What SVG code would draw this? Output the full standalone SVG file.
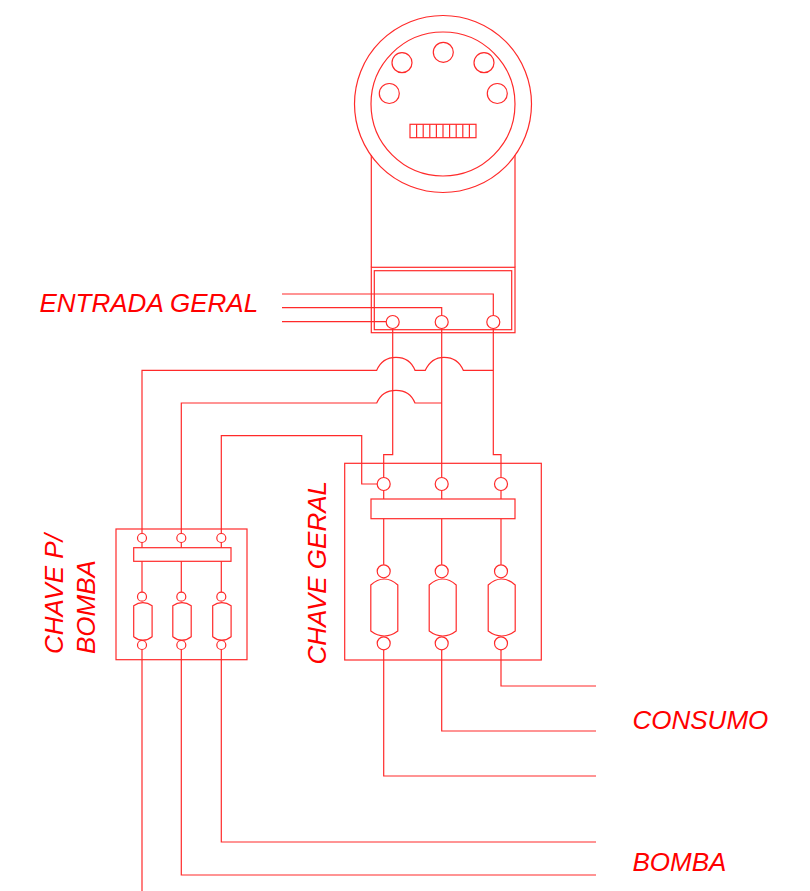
<svg xmlns="http://www.w3.org/2000/svg" width="810" height="891" viewBox="0 0 810 891">
<style>
.s{fill:none;stroke:#ff2a2a;stroke-width:1.2}
.t{font-family:"Liberation Sans",Arial,sans-serif;font-style:italic;font-size:26px;fill:#ff0000}
</style>
<defs>
<path id="f1" d="M-13.5 -23.5Q-7 -29.5 0 -29.5Q7 -29.5 13.5 -23.5V22.5Q7 27.5 0 27.5Q-7 27.5 -13.5 22.5Z"/>
<path id="f2" d="M-9.2 -15.5Q-5 -18.5 0 -18.5Q5 -18.5 9.2 -15.5V15.5Q5 19 0 19Q-5 19 -9.2 15.5Z"/>
</defs>
<rect width="810" height="891" fill="#fff"/>
<g id="connectors" class="s">
<path d="M282 294H493.3V315.5M282 307.7H441.7V315.5M282 321.7H386"/>
<path d="M392.7 328.5V454.7H383.7V477.5M441.7 328.5V477.5M493.3 328.5V454.7H501V477.5"/>
<path d="M142 533.5V370.3H376.7C381 360 388 357.3 396 357.3C404 357.3 411 360 415 370.3H425.3C430 360 437 357.3 444 357.3C452 357.3 459 360 463.3 370.3H493.3"/>
<path d="M181.3 533.5V403H376.7C381 393 388 390.3 396 390.3C404 390.3 411 393 415 403H441.7"/>
<path d="M221.3 533.5V435.7H361.7V484H377"/>
<path d="M383.7 649.8V776H596M441.7 649.8V731H596M501 649.8V686H596"/>
<path d="M142 649.5V891M181.3 649.5V875H596M221.3 649.5V842H596"/>
<path d="M383.7 490.5V499M441.7 490.5V499M501 490.5V499M383.7 518.7V564.8M441.7 518.7V564.8M501 518.7V564.8"/>
<path d="M142 542.5V547.7M181.3 542.5V547.7M221.3 542.5V547.7M142 561.3V592.2M181.3 561.3V592.2M221.3 561.3V592.2"/>
</g>
<g id="meter" class="s">
<circle cx="443" cy="104" r="88.5"/>
<circle cx="443" cy="104" r="72"/>
<circle cx="402" cy="62.7" r="10"/>
<circle cx="443.3" cy="52.3" r="10"/>
<circle cx="484" cy="62.7" r="10"/>
<circle cx="389.3" cy="93.5" r="10"/>
<circle cx="497.3" cy="93.5" r="10"/>
<rect x="410" y="124.3" width="66" height="13.4"/>
<path d="M416.6 124.3V137.7M423.2 124.3V137.7M429.8 124.3V137.7M436.4 124.3V137.7M443 124.3V137.7M449.6 124.3V137.7M456.2 124.3V137.7M462.8 124.3V137.7M469.4 124.3V137.7"/>
<path d="M371.3 155V267.3M515 155V267.3"/>
</g>
<g id="terminal-box" class="s">
<rect x="371.3" y="267.3" width="143.7" height="65.4"/>
<rect x="374.3" y="270.7" width="137.4" height="59"/>
<circle cx="392.7" cy="322" r="6.5"/>
<circle cx="441.7" cy="322" r="6.5"/>
<circle cx="493.3" cy="322" r="6.5"/>
</g>
<g id="chave-geral" class="s">
<rect x="344.7" y="463.3" width="196.6" height="196.7"/>
<rect x="371" y="499" width="144" height="19.7"/>
<circle cx="383.7" cy="484" r="6.5"/>
<circle cx="441.7" cy="484" r="6.5"/>
<circle cx="501" cy="484" r="6.5"/>
<circle cx="383.7" cy="571.3" r="6.5"/>
<circle cx="441.7" cy="571.3" r="6.5"/>
<circle cx="501" cy="571.3" r="6.5"/>
<use href="#f1" x="384.3" y="608.5"/>
<use href="#f1" x="442.7" y="608.5"/>
<use href="#f1" x="501.7" y="608.5"/>
<circle cx="383.7" cy="643.3" r="6.5"/>
<circle cx="441.7" cy="643.3" r="6.5"/>
<circle cx="501" cy="643.3" r="6.5"/>
</g>
<g id="chave-bomba" class="s">
<rect x="116" y="529" width="131" height="130.7"/>
<rect x="133.7" y="547.7" width="97.3" height="13.6"/>
<circle cx="142" cy="538" r="4.5"/>
<circle cx="181.3" cy="538" r="4.5"/>
<circle cx="221.3" cy="538" r="4.5"/>
<circle cx="142" cy="596.7" r="4.5"/>
<circle cx="181.3" cy="596.7" r="4.5"/>
<circle cx="221.3" cy="596.7" r="4.5"/>
<use href="#f2" x="142.9" y="621.2"/>
<use href="#f2" x="182" y="621.2"/>
<use href="#f2" x="221.9" y="621.2"/>
<circle cx="142" cy="645" r="4.5"/>
<circle cx="181.3" cy="645" r="4.5"/>
<circle cx="221.3" cy="645" r="4.5"/>
</g>
<g id="labels">
<text class="t" x="39.5" y="311.5">ENTRADA GERAL</text>
<text class="t" x="632.5" y="729">CONSUMO</text>
<text class="t" x="632.5" y="871">BOMBA</text>
<text class="t" transform="translate(325.5 664.5) rotate(-90)">CHAVE GERAL</text>
<text class="t" transform="translate(62.5 654) rotate(-90)">CHAVE P/</text>
<text class="t" transform="translate(94.5 654) rotate(-90)">BOMBA</text>
</g>
</svg>
